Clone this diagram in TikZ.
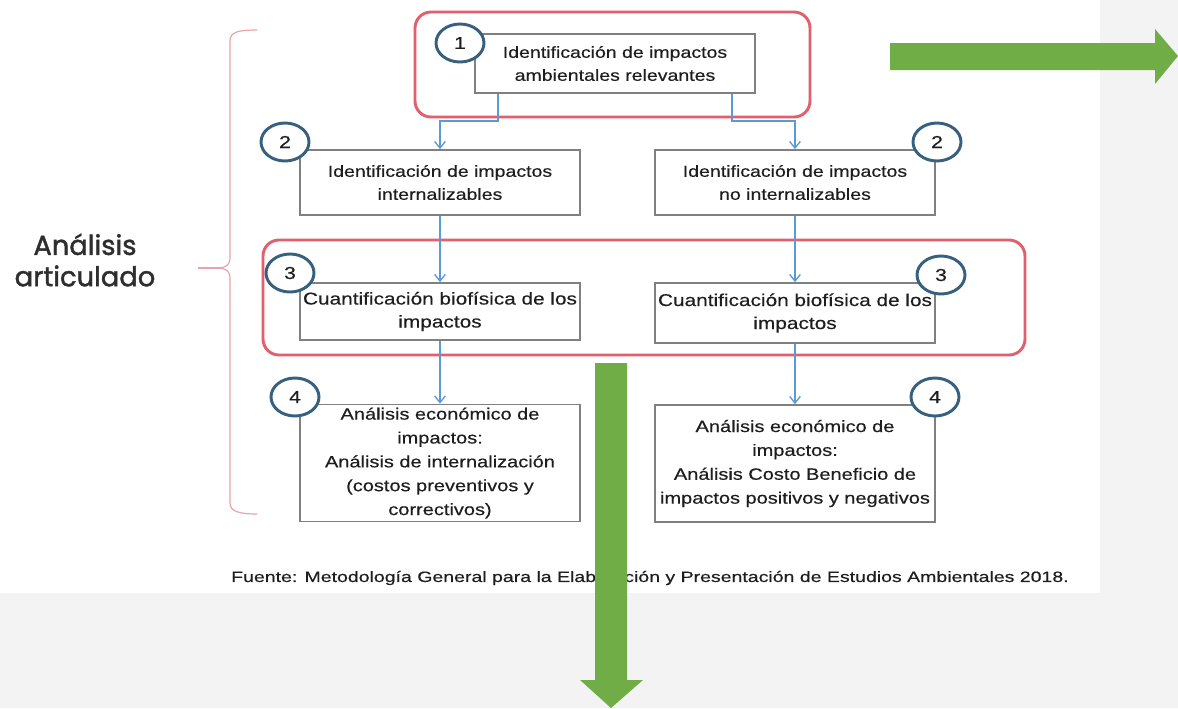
\documentclass[tikz,border=0pt]{standalone}
\usepackage{fontspec}
\setmainfont{Liberation Sans}
\newfontfamily\boxfont[FakeStretch=1.22,FakeBold=0.35]{Liberation Sans}
\newfontfamily\srcfont[FakeStretch=1.3,FakeBold=0.35]{Liberation Sans}
\newfontfamily\popfont[FakeBold=1.6]{Poppins}
\usetikzlibrary{arrows.meta,shapes.geometric,calc}
\definecolor{bg}{HTML}{F3F3F3}
\definecolor{grn}{HTML}{70AD47}
\definecolor{redb}{HTML}{E0606E}
\definecolor{boxg}{HTML}{808080}
\definecolor{connc}{HTML}{5B9BD5}
\definecolor{circ}{HTML}{375F7E}
\definecolor{bracec}{HTML}{E8A4AE}
\definecolor{txt}{HTML}{1E1E1E}
\begin{document}
\begin{tikzpicture}[x=0.75pt,y=-0.75pt,
  stepbox/.style={draw=boxg,line width=1.3pt,fill=white,minimum width=210pt,text width=208pt,
    align=center,inner sep=1pt,text=txt,font=\boxfont\fontsize{12pt}{17.25pt}\selectfont},
  bigtext/.style={text width=210pt,inner xsep=0pt,font=\boxfont\fontsize{12.8pt}{17.25pt}\selectfont},
  tallbox/.style={font=\boxfont\fontsize{12.3pt}{17.9pt}\selectfont},
  numc/.style={ellipse,draw=circ,line width=2.2pt,fill=white,minimum width=36pt,minimum height=28.5pt,
    inner sep=0pt,text=txt,font=\boxfont\fontsize{13pt}{15pt}\selectfont},
  redbox/.style={draw=redb,line width=2.2pt,rounded corners=12pt},
  connl/.style={draw=connc,line width=1pt,-{Straight Barb[length=5pt,width=8pt]}},
  bigarrow/.style={fill=grn,draw=none},
  bracel/.style={draw=bracec,line width=0.9pt}
]
\useasboundingbox (0,0) rectangle (1178,708);
\fill[bg] (0,0) rectangle (1178,708);
\fill[white] (0,0) rectangle (1100,593);

% red containers
\node[redbox,minimum width=296.25pt,minimum height=78.75pt] (r1) at (612.5,64.5) {};
\node[redbox,minimum width=571.5pt,minimum height=86.25pt] (r2) at (644,297.5) {};

% boxes
\node[stepbox,minimum height=44.25pt] (b1) at (615,63.5) {Identificación de impactos\\ambientales relevantes};
\node[stepbox,minimum height=48.75pt] (b2L) at (440,182.5) {Identificación de impactos\\internalizables};
\node[stepbox,minimum height=48.75pt] (b2R) at (795,182.5) {Identificación de impactos\\no internalizables};
\node[stepbox,bigtext,minimum height=42.75pt] (b3L) at (440,311.5) {Cuantificación biofísica de los\\impactos};
\node[stepbox,bigtext,minimum height=45pt] (b3R) at (795,313) {Cuantificación biofísica de los\\impactos};
\node[stepbox,tallbox,minimum height=87.75pt] (b4L) at (440,463) {Análisis económico de\\impactos:\\Análisis de internalización\\(costos preventivos y\\correctivos)};
\node[stepbox,tallbox,minimum height=87.75pt] (b4R) at (795,463.5) {Análisis económico de\\impactos:\\Análisis Costo Beneficio de\\impactos positivos y negativos};

% connectors
\coordinate (e1) at (498,121);
\coordinate (e2) at (732,121);
\draw[connl] (b1.south -| e1) -- (e1) -| (b2L.north);
\draw[connl] (b1.south -| e2) -- (e2) -| (b2R.north);
\draw[connl] (b2L.south) -- (b3L.north);
\draw[connl] (b2R.south) -- (b3R.north);
\draw[connl] (b3L.south) -- (b4L.north);
\draw[connl] (b3R.south) -- (b4R.north);

% numbers
\node[numc] (n1) at (460,43) {1};
\node[numc] (n2L) at (285,142) {2};
\node[numc] (n2R) at (937,142) {2};
\node[numc] (n3L) at (290,273) {3};
\node[numc] (n3R) at (941,275) {3};
\node[numc] (n4L) at (295,397) {4};
\node[numc] (n4R) at (935,397) {4};

% brace
\draw[bracel] (257,30) .. controls (238,30) and (230,32) .. (230,41) -- (230,258)
  .. controls (230,264) and (227,267) .. (220,268)
  .. controls (227,269) and (230,272) .. (230,278) -- (230,503)
  .. controls (230,511) and (238,514) .. (257,514);
\coordinate (bt) at (220,268);
\draw[bracel] (198,268) -- (bt);
\node[font=\popfont\fontsize{20.5pt}{23.5pt}\selectfont,text=black!82,align=center] (lab) at (85,260) {Análisis\\articulado};

% source
\node[font=\srcfont\fontsize{11.25pt}{13pt}\selectfont,text=txt] (src) at (650,578) {Fuente: Metodología General para la Elaboración y Presentación de Estudios Ambientales 2018.};

% green arrows
\fill[bigarrow] (890,43) -- (1155,43) -- (1155,29) -- (1178,56) -- (1155,84) -- (1155,70) -- (890,70) -- cycle;
\fill[bigarrow] (595,363) -- (627,363) -- (627,680) -- (643,680) -- (611,708) -- (580,680) -- (595,680) -- cycle;
\end{tikzpicture}
\end{document}
